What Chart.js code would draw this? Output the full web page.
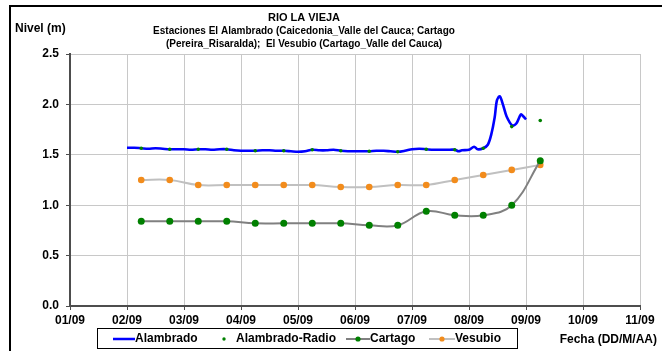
<!DOCTYPE html>
<html>
<head>
<meta charset="utf-8">
<script src="https://cdn.jsdelivr.net/npm/chart.js@4/dist/chart.umd.min.js"></script>
<style>
    html, body { margin: 0; padding: 0; background: #fff; }
    #wrap { width: 662px; height: 351px; position: relative; }
</style>
</head>
<body>
<div id="wrap"><canvas id="grafica"></canvas></div>
<script>
// dias (1 = 01/09), niveles en metros
var alamDias = [2.0, 2.125, 2.25, 2.375, 2.5, 2.625, 2.75, 2.875,
    3.0, 3.125, 3.25, 3.375, 3.5, 3.625, 3.75, 3.875,
    4.0, 4.125, 4.25, 4.375, 4.5, 4.625, 4.75, 4.875,
    5.0, 5.125, 5.25, 5.375, 5.5, 5.625, 5.75, 5.875,
    6.0, 6.125, 6.25, 6.375, 6.5, 6.625, 6.75, 6.875,
    7.0, 7.125, 7.25, 7.375, 7.5, 7.625, 7.75, 7.82, 7.875,
    8.0, 8.09, 8.15, 8.25, 8.33, 8.39, 8.45, 8.49, 8.54, 8.6, 8.66, 8.76, 8.83, 8.91, 8.955, 9.0];
var alamNivel = [1.57, 1.57, 1.565, 1.56, 1.565, 1.56, 1.555, 1.555,
    1.555, 1.55, 1.555, 1.555, 1.55, 1.555, 1.555, 1.545,
    1.54, 1.54, 1.54, 1.545, 1.545, 1.54, 1.54, 1.535,
    1.53, 1.535, 1.55, 1.545, 1.545, 1.55, 1.54, 1.535,
    1.535, 1.535, 1.535, 1.54, 1.54, 1.535, 1.53, 1.54,
    1.555, 1.56, 1.555, 1.55, 1.55, 1.55, 1.55, 1.535, 1.545,
    1.55, 1.58, 1.555, 1.565, 1.6, 1.7, 1.87, 2.04, 2.08, 1.99, 1.88, 1.79, 1.81, 1.9, 1.88, 1.85];

var radioDias = [2.25, 2.75, 3.25, 3.75, 4.25, 4.75, 5.25, 5.75, 6.25, 6.75, 7.25, 7.75, 8.25, 8.75, 9.25];
var radioNivel = [1.565, 1.555, 1.555, 1.555, 1.54, 1.54, 1.55, 1.54, 1.535, 1.53, 1.555, 1.55, 1.565, 1.78, 1.84];

var estDias = [2.25, 2.75, 3.25, 3.75, 4.25, 4.75, 5.25, 5.75, 6.25, 6.75, 7.25, 7.75, 8.25, 8.75, 9.25];
var cartagoNivel = [0.84, 0.84, 0.84, 0.84, 0.82, 0.82, 0.82, 0.82, 0.80, 0.80, 0.94, 0.90, 0.90, 1.00, 1.44];
var vesubioNivel = [1.25, 1.25, 1.20, 1.20, 1.20, 1.20, 1.20, 1.18, 1.18, 1.20, 1.20, 1.25, 1.30, 1.35, 1.40];

var titulo = ['RIO LA VIEJA',
    'Estaciones El Alambrado (Caicedonia_Valle del Cauca; Cartago',
    '(Pereira_Risaralda);  El Vesubio (Cartago_Valle del Cauca)'];

function pares(xs, ys) {
    return xs.map(function (x, i) { return { x: x, y: ys[i] }; });
}

var familia = '"Liberation Sans", Arial, sans-serif';

var marco = {
    id: 'marco',
    afterDraw: function (chart) {
        var ctx = chart.ctx;
        ctx.save();
        // marco exterior
        ctx.strokeStyle = '#000';
        ctx.lineWidth = 2;
        ctx.beginPath();
        ctx.moveTo(10, 360);
        ctx.lineTo(10, 6);
        ctx.lineTo(670, 6);
        ctx.stroke();

        ctx.fillStyle = '#000';
        ctx.textBaseline = 'middle';
        ctx.textAlign = 'center';
        titulo.forEach(function (t, i) {
            ctx.font = 'bold ' + (i === 0 ? 11 : 10) + 'px ' + familia;
            ctx.fillText(t, 304, 18 + i * 13);
        });
        ctx.font = 'bold 12px ' + familia;
        ctx.textAlign = 'left';
        ctx.fillText('Nivel (m)', 15, 29);
        ctx.textAlign = 'right';
        ctx.fillText('Fecha (DD/M/AA)', 657, 340);

        // leyenda
        ctx.strokeStyle = '#000';
        ctx.lineWidth = 1;
        ctx.strokeRect(97.5, 328.5, 420, 20);
        var yl = 339;
        ctx.textAlign = 'left';
        ctx.lineWidth = 2.5;
        ctx.strokeStyle = '#0000ff';
        ctx.beginPath(); ctx.moveTo(113, yl); ctx.lineTo(135, yl); ctx.stroke();
        ctx.fillText('Alambrado', 135, yl);

        ctx.fillStyle = '#008000';
        ctx.beginPath(); ctx.arc(224, yl, 1.7, 0, Math.PI * 2); ctx.fill();
        ctx.fillStyle = '#000';
        ctx.fillText('Alambrado-Radio', 236, yl);

        ctx.lineWidth = 2;
        ctx.strokeStyle = '#808080';
        ctx.beginPath(); ctx.moveTo(346, yl); ctx.lineTo(370, yl); ctx.stroke();
        ctx.fillStyle = '#008000';
        ctx.beginPath(); ctx.arc(358, yl, 2.6, 0, Math.PI * 2); ctx.fill();
        ctx.fillStyle = '#000';
        ctx.fillText('Cartago', 370, yl);

        ctx.strokeStyle = '#c0c0c0';
        ctx.beginPath(); ctx.moveTo(429, yl); ctx.lineTo(455, yl); ctx.stroke();
        ctx.fillStyle = '#f28c1c';
        ctx.beginPath(); ctx.arc(442, yl, 2.6, 0, Math.PI * 2); ctx.fill();
        ctx.fillStyle = '#000';
        ctx.fillText('Vesubio', 455, yl);
        ctx.restore();
    }
};

var cfg = {
    type: 'line',
    data: {
        datasets: [
            {
                label: 'Alambrado-Radio',
                data: pares(radioDias, radioNivel),
                showLine: false,
                pointRadius: 1.8,
                pointBorderWidth: 0,
                pointBackgroundColor: '#008000',
                order: 0
            },
            {
                label: 'Alambrado',
                data: pares(alamDias, alamNivel),
                borderColor: '#0000ff',
                borderWidth: 2.6,
                pointRadius: 0,
                tension: 0.3,
                order: 1
            },
            {
                label: 'Cartago',
                data: pares(estDias, cartagoNivel),
                borderColor: '#808080',
                borderWidth: 2,
                pointRadius: 3.5,
                pointBorderWidth: 0,
                pointBackgroundColor: '#008000',
                tension: 0.4,
                order: 2
            },
            {
                label: 'Vesubio',
                data: pares(estDias, vesubioNivel),
                borderColor: '#c0c0c0',
                borderWidth: 2,
                pointRadius: 3.3,
                pointBorderWidth: 0,
                pointBackgroundColor: '#f28c1c',
                tension: 0.4,
                order: 3
            }
        ]
    },
    options: {
        responsive: false,
        animation: false,
        layout: { padding: { top: 54, right: 22, left: 0, bottom: 0 } },
        plugins: {
            legend: { display: false },
            title: { display: false },
            tooltip: { enabled: false }
        },
        scales: {
            x: {
                type: 'linear',
                min: 1,
                max: 11,
                afterFit: function (s) { s.height = 45; },
                ticks: {
                    stepSize: 1,
                    color: '#000',
                    padding: 3,
                    font: { family: familia, size: 12, weight: 'bold' },
                    maxRotation: 0,
                    callback: function (v) { return (v < 10 ? '0' : '') + v + '/09'; }
                },
                grid: { color: '#c8c8c8', lineWidth: 1, tickColor: '#4d4d4d', tickLength: 4 },
                border: { color: '#4d4d4d', width: 2 }
            },
            y: {
                min: 0,
                max: 2.5,
                afterFit: function (s) { s.width = 70; },
                ticks: {
                    stepSize: 0.5,
                    color: '#000',
                    padding: 7,
                    font: { family: familia, size: 12, weight: 'bold' },
                    callback: function (v) { return v.toFixed(1); }
                },
                grid: { color: '#c8c8c8', lineWidth: 1, tickColor: '#4d4d4d', tickLength: 4 },
                border: { color: '#4d4d4d', width: 2 }
            }
        }
    },
    plugins: [marco]
};

var c = document.getElementById('grafica');
c.width = 662;
c.height = 351;
new Chart(c, cfg);
</script>
</body>
</html>
